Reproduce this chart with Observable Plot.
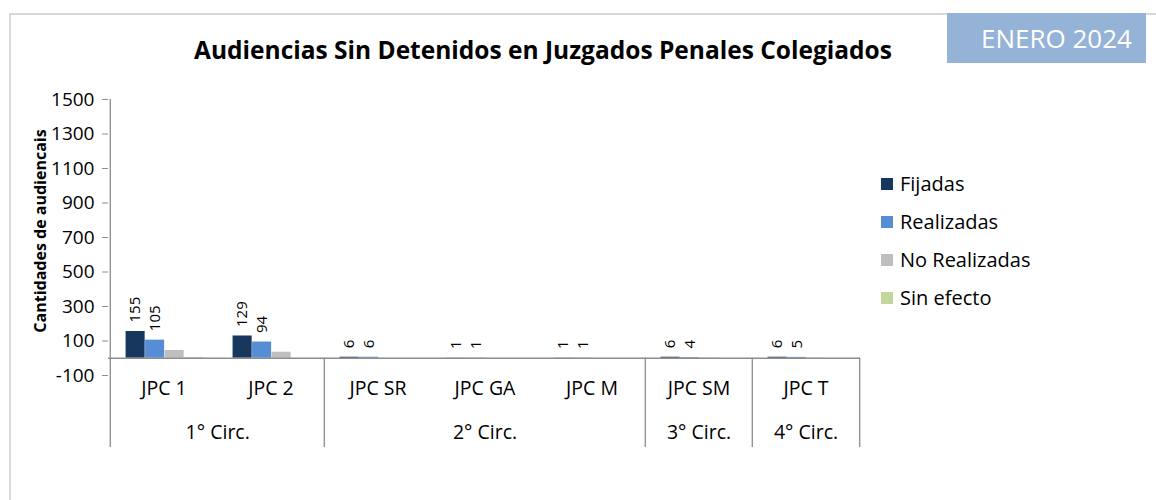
<!DOCTYPE html>
<html>
<head>
<meta charset="utf-8">
<script src="https://cdn.jsdelivr.net/npm/d3@7"></script>
<script src="https://cdn.jsdelivr.net/npm/@observablehq/plot@0.6"></script>
<style>
  body { margin: 0; background: #fff; font-family: "Open Sans", sans-serif; }
  #wrap { position: relative; width: 1156px; height: 500px; overflow: hidden; background: #fff; }
  #border { position: absolute; left: 9px; top: 13px; width: 2000px; height: 1000px; border-left: 2px solid #d9d9d9; border-top: 2px solid #d9d9d9; }
  #chart { position: absolute; left: 0; top: 0; }
  #title { position: absolute; left: 0; width: 1086px; top: 34px; text-align: center; font-weight: bold; font-size: 24.5px; color: #000; line-height: 32px; }
  #badge { position: absolute; left: 947px; top: 13px; width: 199px; height: 50px; background: #95B3D7; color: #fff; font-size: 26px; line-height: 50px; }
  #badge span { position: absolute; left: 34px; top: 0; }
  #ylabel { position: absolute; left: 40px; top: 231px; transform: translate(-50%, -50%) rotate(-90deg); font-weight: bold; font-size: 16px; white-space: nowrap; color: #000; }
  #legend { position: absolute; left: 881px; top: 170px; }
  .li { position: relative; height: 38px; font-size: 20px; color: #000; }
  .li i { position: absolute; left: 0; top: 8px; width: 12px; height: 12px; }
  .li span { position: absolute; left: 19px; top: 0; line-height: 28px; white-space: nowrap; }
</style>
</head>
<body>
<div id="wrap">
  <div id="border"></div>
  <div id="chart"></div>
  <div id="title"></div>
  <div id="badge"><span></span></div>
  <div id="ylabel"></div>
  <div id="legend"></div>
</div>
<script>
// ---- data ----
const titleText = "Audiencias Sin Detenidos en Juzgados Penales Colegiados";
const badgeText = "ENERO 2024";
const yLabelText = "Cantidades de audiencais";
const categories = ["JPC 1", "JPC 2", "JPC SR", "JPC GA", "JPC M", "JPC SM", "JPC T"];
const circuits = ["1° Circ.", "2° Circ.", "3° Circ.", "4° Circ."];
const circuitOf = ["1° Circ.", "1° Circ.", "2° Circ.", "2° Circ.", "2° Circ.", "3° Circ.", "4° Circ."];
const series = ["Fijadas", "Realizadas", "No Realizadas", "Sin efecto"];
const fijadas = [155, 129, 6, 1, 1, 6, 6];
const realizadas = [105, 94, 6, 1, 1, 4, 5];
const noRealizadas = [45, 35, 0, 0, 0, 2, 1];
const sinEfecto = [5, 0, 0, 0, 0, 0, 0];
const labeledSeries = ["Fijadas", "Realizadas"];
const colors = ["#17375E", "#558ED5", "#BFBFBF", "#C3D69B"];
const yTicks = [-100, 100, 300, 500, 700, 900, 1100, 1300, 1500];
const yDomain = [-100, 1500];

// ---- layout ----
const W = 1156, H = 500;
const mL = 108, mR = 296, mT = 99, mB = 53;
const yRange = [375, 99];
const bw = (W - mL - mR) / categories.length;
const barW = bw * 0.1815;
const groupStart = bw * 0.145;
const axisColor = "#8c8c8c";
const below = -(H - mB - yRange[0]); // extend separators below the plot area

const values = [fijadas, realizadas, noRealizadas, sinEfecto];
const rows = [];
series.forEach((s, i) => categories.forEach((c, j) => rows.push({cat: c, series: s, si: i, value: values[i][j]})));

const groups = circuits.map(name => {
  const idx = circuitOf.map((c, j) => c === name ? j : -1).filter(j => j >= 0);
  const first = idx[0], last = idx[idx.length - 1];
  const mid = (first + last) / 2;
  return {name, anchor: categories[Math.floor(mid)], frac: mid - Math.floor(mid), firstCat: categories[first], lastCat: categories[last]};
});

const marks = [];
series.forEach((s, i) => {
  marks.push(Plot.barY(rows.filter(r => r.series === s), {
    x: "cat", y: "value", fill: colors[i],
    insetLeft: groupStart + i * barW,
    insetRight: bw - groupStart - (i + 1) * barW
  }));
});
marks.push(Plot.ruleY([0], {stroke: axisColor, strokeWidth: 1.3}));
marks.push(Plot.ruleX([categories[0]], {dx: -bw / 2, stroke: axisColor, strokeWidth: 1.3}));
groups.slice(1).forEach(g => {
  marks.push(Plot.ruleX([g.firstCat], {y1: 0, y2: yDomain[0], insetBottom: below, dx: -bw / 2, stroke: axisColor, strokeWidth: 1.3}));
});
marks.push(Plot.ruleX([groups[groups.length - 1].lastCat], {y1: 0, y2: yDomain[0], insetBottom: below, dx: bw / 2, stroke: axisColor, strokeWidth: 1.3}));
labeledSeries.forEach(s => {
  const i = series.indexOf(s);
  marks.push(Plot.text(rows.filter(r => r.series === s && r.value > 0), {
    x: "cat", y: "value", text: d => String(d.value),
    rotate: -90, textAnchor: "start",
    dx: groupStart + (i + 0.5) * barW - bw / 2, dy: -9,
    fontSize: 15, fill: "#000"
  }));
});
marks.push(Plot.text(categories, {x: d => d, text: d => d, frameAnchor: "bottom", dy: -53, fontSize: 19.5, fill: "#000"}));
groups.forEach(g => {
  marks.push(Plot.text([g], {x: "anchor", text: "name", frameAnchor: "bottom", dy: -9, dx: g.frac * bw, fontSize: 19.5, fill: "#000"}));
});

const chart = Plot.plot({
  width: W, height: H,
  marginLeft: mL, marginRight: mR, marginTop: mT, marginBottom: mB,
  style: {fontFamily: "Open Sans, sans-serif", fontSize: "19px", background: "transparent", color: "#000", overflow: "visible"},
  x: {domain: categories, padding: 0, axis: null},
  y: {domain: yDomain, range: yRange, ticks: yTicks, tickSize: 6, tickPadding: 8, tickFormat: d => String(d), label: null},
  marks
});
chart.querySelectorAll('g[aria-label="y-axis tick"] path, g[aria-label="y-axis"] path, g[aria-label="y-axis"] line').forEach(e => e.setAttribute("stroke", axisColor));
document.getElementById("chart").appendChild(chart);

document.getElementById("title").textContent = titleText;
document.querySelector("#badge span").textContent = badgeText;
document.getElementById("ylabel").textContent = yLabelText;
const lg = document.getElementById("legend");
series.forEach((s, i) => {
  const d = document.createElement("div");
  d.className = "li";
  d.innerHTML = `<i style="background:${colors[i]}"></i><span></span>`;
  d.querySelector("span").textContent = s;
  lg.appendChild(d);
});
</script>
</body>
</html>
